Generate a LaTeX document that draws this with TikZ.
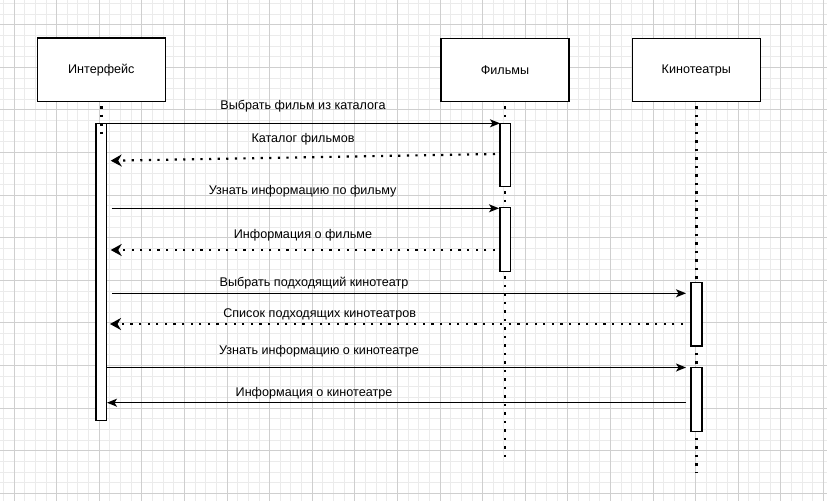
\documentclass[tikz,border=0pt]{standalone}
\usepackage{fontspec}
\setmainfont{Liberation Sans}
\usetikzlibrary{arrows.meta}
\tikzset{
  gridminor/.style={line width=0.9pt, color=black!8},
  gridmajor/.style={line width=0.9pt, color=black!19},
  actor/.style={draw=black, fill=white, line width=1.3pt, minimum width=128pt, minimum height=63.5pt, inner sep=0pt, font=\fontsize{12.6}{15}\selectfont},
  actbar/.style={draw=black, fill=white, line width=1.2pt, minimum width=10.7pt, inner sep=0pt},
  lifeline/.style={line width=2.4pt, dash pattern=on 2.4pt off 6.1pt, color=black},
  callmsg/.style={line width=1.3pt, -{Stealth[length=10pt,width=8pt,inset=2.5pt]}},
  retmsg/.style={line width=2.2pt, dash pattern=on 2.2pt off 6.4pt, -{Stealth[length=11pt,width=12pt,inset=3.5pt]}},
  msglabel/.style={font=\fontsize{12.6}{15}\selectfont, inner sep=0pt, text=black}
}
\begin{document}
\begin{tikzpicture}[x=1pt,y=-1pt]
\useasboundingbox (0,0) rectangle (827,501);
\fill[white] (0,0) rectangle (827,501);
% grid
\foreach \i in {0,...,77} {\draw[gridminor] ({3.35+10.65*\i},0) -- ({3.35+10.65*\i},501);}
\foreach \i in {0,...,46} {\draw[gridminor] (0,{3.4+10.65*\i}) -- (827,{3.4+10.65*\i});}
\foreach \i in {0,...,19} {\draw[gridmajor] ({14+42.6*\i},0) -- ({14+42.6*\i},501);}
\foreach \i in {0,...,11} {\draw[gridmajor] (0,{24.7+42.6*\i}) -- (827,{24.7+42.6*\i});}

% actors
\node[actor] (int) at (101.3,69.8) {Интерфейс};
\node[actor] (film) at (505,70) {Фильмы};
\node[actor] (kino) at (696.3,70) {Кинотеатры};

% lifeline ends
\coordinate (filmEnd) at (505,462);
\coordinate (kinoEnd) at (696.3,472.5);
\coordinate (intEnd) at (101.3,134);
\draw[lifeline] (film.south) ++(0,4) -- (filmEnd);
\draw[lifeline] (kino.south) ++(0,4) -- (kinoEnd);

% activation bars
\node[actbar, minimum height=297.4pt] (intA) at (101.3,272) {};
\node[actbar, minimum height=63.4pt] (filmA1) at (505.3,155) {};
\node[actbar, minimum height=64pt] (filmA2) at (505.3,239.7) {};
\node[actbar, minimum width=11pt, minimum height=63.5pt] (kinoA1) at (696.5,314.3) {};
\node[actbar, minimum width=11pt, minimum height=64.4pt] (kinoA2) at (696.5,399.5) {};

\draw[lifeline] (int.south) ++(0,4) -- (intEnd);

% message end points
\coordinate (m1s) at (96,123.3);   \coordinate (m1e) at (500,123.3);
\coordinate (m2s) at (495,154);    \coordinate (m2e) at (110.7,160.7);
\coordinate (m3s) at (111.7,208.3);\coordinate (m3e) at (499,208.3);
\coordinate (m4s) at (495,250);    \coordinate (m4e) at (110.7,250);
\coordinate (m5s) at (112.3,293.3);\coordinate (m5e) at (686,293.3);
\coordinate (m6s) at (683,324);    \coordinate (m6e) at (110,324);
\coordinate (m7s) at (107,367.5);  \coordinate (m7e) at (686,367.5);
\coordinate (m8s) at (686,402.7);  \coordinate (m8e) at (107,402.7);

\draw[callmsg] (m1s) -- (m1e);
\draw[retmsg] (m2s) -- (m2e);
\draw[callmsg] (m3s) -- (m3e);
\draw[retmsg] (m4s) -- (m4e);
\draw[callmsg] (m5s) -- (m5e);
\draw[retmsg] (m6s) -- (m6e);
\draw[callmsg] (m7s) -- (m7e);
\draw[callmsg] (m8s) -- (m8e);

% labels
\node[msglabel] (l1) at (303,106) {Выбрать фильм из каталога};
\node[msglabel] (l2) at (303,139) {Каталог фильмов};
\node[msglabel] (l3) at (302.7,191) {Узнать информацию по фильму};
\node[msglabel] (l4) at (303,235) {Информация о фильме};
\node[msglabel] (l5) at (314,283.3) {Выбрать подходящий кинотеатр};
\node[msglabel] (l6) at (319.6,314.3) {Список подходящих кинотеатров};
\node[msglabel] (l7) at (319,351.7) {Узнать информацию о кинотеатре};
\node[msglabel] (l8) at (314,393.3) {Информация о кинотеатре};
\end{tikzpicture}
\end{document}
